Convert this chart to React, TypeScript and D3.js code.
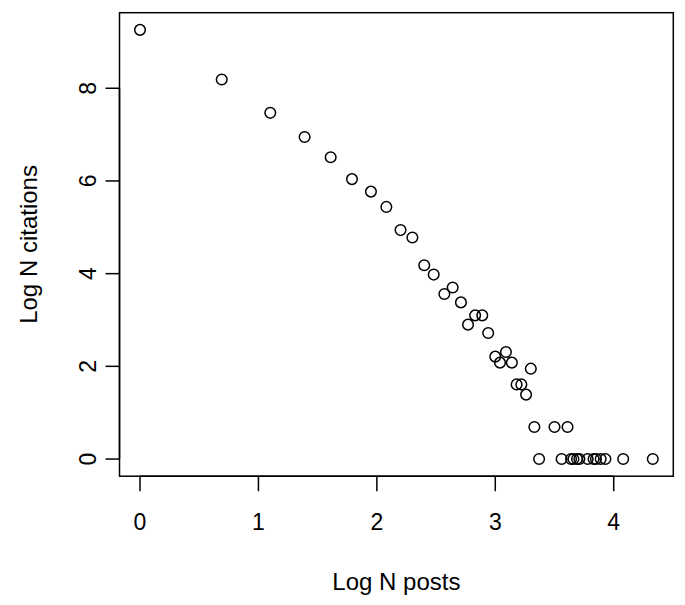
import React from 'react';
import * as d3 from 'd3';

// log of number of posts per author (x) and log of citations (y)
const logPosts = [
  0, 0.69, 1.1, 1.39, 1.61, 1.79, 1.95, 2.08, 2.2, 2.3,
  2.4, 2.48, 2.57, 2.64, 2.71, 2.77, 2.83, 2.89, 2.94, 3.0,
  3.04, 3.09, 3.14, 3.18, 3.22, 3.26, 3.3, 3.33, 3.37, 3.5,
  3.56, 3.61, 3.64, 3.66, 3.69, 3.71, 3.78, 3.83, 3.85, 3.89,
  3.93, 4.08, 4.33,
];
const logCitations = [
  9.26, 8.19, 7.47, 6.95, 6.51, 6.04, 5.77, 5.44, 4.94, 4.78,
  4.18, 3.98, 3.56, 3.7, 3.38, 2.9, 3.1, 3.1, 2.72, 2.21,
  2.08, 2.31, 2.08, 1.61, 1.61, 1.39, 1.95, 0.69, 0, 0.69,
  0, 0.69, 0, 0, 0, 0, 0, 0, 0, 0,
  0, 0, 0,
];
const xTicks = [0, 1, 2, 3, 4];
const yTicks = [0, 2, 4, 6, 8];

const W = 685;
const H = 605;
const box = { left: 119.5, right: 673.3, top: 12.7, bottom: 476.2 };
const font = "'Liberation Sans', Arial, Helvetica, sans-serif";

export default function App() {
  // R style: 4% padding on each side of the data range
  const xMax = d3.max(logPosts) as number;
  const yMax = d3.max(logCitations) as number;
  const x = d3.scaleLinear()
    .domain([-0.04 * xMax, xMax * 1.04])
    .range([box.left, box.right]);
  const y = d3.scaleLinear()
    .domain([-0.04 * yMax, yMax * 1.04])
    .range([box.bottom, box.top]);

  const pts = logPosts.map((v, i) => [v, logCitations[i]]);

  return (
    <svg width={W} height={H} style={{ position: 'absolute', left: 0, top: 0, background: '#fff' }}>
      <rect x={box.left} y={box.top} width={box.right - box.left} height={box.bottom - box.top}
        fill="none" stroke="#000" strokeWidth={1.5} />

      {/* x axis */}
      <line x1={x(0)} x2={x(4)} y1={box.bottom} y2={box.bottom} stroke="#000" strokeWidth={1.5} />
      {xTicks.map(t => (
        <g key={'x' + t}>
          <line x1={x(t)} x2={x(t)} y1={box.bottom} y2={box.bottom + 15} stroke="#000" strokeWidth={1.5} />
          <text x={x(t)} y={530} textAnchor="middle" fontSize={23} fontFamily={font}>{t}</text>
        </g>
      ))}

      {/* y axis */}
      <line x1={box.left} x2={box.left} y1={y(0)} y2={y(8)} stroke="#000" strokeWidth={1.5} />
      {yTicks.map(t => (
        <g key={'y' + t}>
          <line x1={box.left - 14} x2={box.left} y1={y(t)} y2={y(t)} stroke="#000" strokeWidth={1.5} />
          <text transform={`translate(96,${y(t)}) rotate(-90)`} textAnchor="middle" fontSize={23} fontFamily={font}>{t}</text>
        </g>
      ))}

      <text x={(box.left + box.right) / 2} y={590} textAnchor="middle" fontSize={24} fontFamily={font}>Log N posts</text>
      <text transform={`translate(37,${(box.top + box.bottom) / 2}) rotate(-90)`} textAnchor="middle"
        fontSize={24} fontFamily={font}>Log N citations</text>

      {pts.map((d, i) => (
        <circle key={i} cx={x(d[0])} cy={y(d[1])} r={5.3} fill="none" stroke="#000" strokeWidth={1.5} />
      ))}
    </svg>
  );
}
